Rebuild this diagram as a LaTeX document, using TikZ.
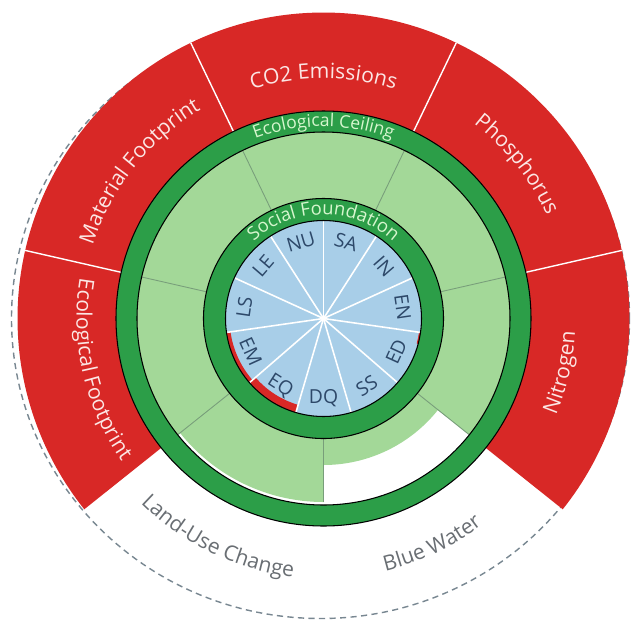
\documentclass[tikz,border=0pt]{standalone}
\usepackage{fontspec}
\setmainfont{Open Sans}
\usepackage{tikz}
\usetikzlibrary{decorations.text}

\definecolor{ceilred}{RGB}{216,40,38}
\definecolor{leafgreen}{RGB}{163,216,152}
\definecolor{ringgreen}{RGB}{44,158,72}
\definecolor{needblue}{RGB}{168,206,232}
\definecolor{needtext}{RGB}{45,72,105}
\definecolor{ringtext}{RGB}{214,246,206}
\definecolor{pinktext}{RGB}{252,230,228}
\definecolor{edgegrey}{RGB}{120,158,122}
\definecolor{usetext}{RGB}{105,110,115}
\definecolor{dashgrey}{RGB}{120,135,145}

\newcommand{\ceilfont}{\fontsize{12}{14}\selectfont\color{pinktext}}
\newcommand{\ringfont}{\fontsize{10}{11}\selectfont\color{ringtext}}
\newcommand{\basefont}{\fontsize{10.5}{12}\selectfont\color{ringtext}}
\newcommand{\landfont}{\fontsize{12}{14}\selectfont\color{usetext}}

\tikzset{
  needlabel/.style={text=needtext, font=\fontsize{11}{11}\selectfont, inner sep=0pt},
  ringline/.style={black, line width=0.6pt},
}

\begin{document}
\begin{tikzpicture}[x=0.02cm, y=0.02cm]
    % Frame
    \useasboundingbox (-323.5,-301.5) rectangle (311.5,318.5);
    \fill[white] (-323.5,-301.5) rectangle (311.5,318.5);
    % Dashed outline
    \draw[dashgrey, line width=0.8pt, dash pattern=on 3.5pt off 2.5pt] (-3,0) ellipse[x radius=309, y radius=300];
    % Red overshoot of the ceiling
    \foreach \a in {12.86, 64.29, 115.71, 167.14, 321.43}
        \fill[ceilred] (\a:200) arc[start angle=\a, end angle=\a+51.43, radius=200]
            -- ({\a+51.43}:306) arc[start angle=\a+51.43, end angle=\a, radius=306] -- cycle;
    \foreach \a in {12.86, 64.29, 115.71, 167.14}
        \draw[white, line width=0.8pt] (\a:207) -- (\a:306);
    % Green wedges
    \foreach \a in {12.86, 64.29, 115.71, 167.14, 321.43}
        \fill[leafgreen] (\a:110) arc[start angle=\a, end angle=\a+51.43, radius=110]
            -- ({\a+51.43}:190) arc[start angle=\a+51.43, end angle=\a, radius=190] -- cycle;
    \fill[leafgreen] (218.57:110) arc[start angle=218.57, end angle=270, radius=110]
        -- (270:183.5) arc[start angle=270, end angle=218.57, radius=183.5] -- cycle;
    \fill[leafgreen] (270:110) arc[start angle=270, end angle=321.43, radius=110]
        -- (321.43:146.5) arc[start angle=321.43, end angle=270, radius=146.5] -- cycle;
    \foreach \a in {12.86, 64.29, 115.71, 167.14, 218.57, 321.43}
        \draw[edgegrey, line width=0.5pt] (\a:118) -- (\a:187);
    \draw[edgegrey, line width=0.5pt] (270:118) -- (270:183.5);
    % Ecological ceiling ring
    \fill[ringgreen, even odd rule] (0,0) circle[radius=207.5] (0,0) circle[radius=186.5];
    \draw[ringline] (0,0) circle[radius=207.5] (0,0) circle[radius=186.5];
    % Social needs
    \fill[needblue] (0,0) circle[radius=98];
    \fill[ceilred] (188.18:98) arc[start angle=188.18, end angle=220.91, radius=98]
        -- (220.91:94) arc[start angle=220.91, end angle=188.18, radius=94] -- cycle;
    \fill[ceilred] (220.91:98) arc[start angle=220.91, end angle=253.64, radius=98]
        -- (253.64:90) arc[start angle=253.64, end angle=220.91, radius=90] -- cycle;
    \fill[ceilred] (345:98) arc[start angle=345, end angle=351.82, radius=98]
        -- (351.82:96.5) arc[start angle=351.82, end angle=345, radius=96.5] -- cycle;
    \foreach \k in {0,...,10}
        \draw[white, line width=0.9pt] (0,0) -- ({90+32.727*\k}:98);
    % Social foundation ring
    \fill[ringgreen, even odd rule] (0,0) circle[radius=120] (0,0) circle[radius=98];
    \draw[ringline] (0,0) circle[radius=120] (0,0) circle[radius=98];
    % Ring titles
    \path[decorate, decoration={text along path, text align=center,
        text={|\ringfont|Ecological Ceiling}}] (130:192) arc[start angle=130, end angle=50, radius=192];
    \path[decorate, decoration={text along path, text align=center,
        text={|\basefont|Social Foundation}}] (160:104) arc[start angle=160, end angle=20, radius=104];
    % Ceiling labels
    \path[decorate, decoration={text along path, text align=center,
        text={|\ceilfont|CO2 Emissions}}] (130:240) arc[start angle=130, end angle=50, radius=240];
    \path[decorate, decoration={text along path, text align=center,
        text={|\ceilfont|Phosphorus}}] (78.57:246) arc[start angle=78.57, end angle=-1.43, radius=246];
    \path[decorate, decoration={text along path, text align=center,
        text={|\ceilfont|Material Footprint}}] (181.43:242) arc[start angle=181.43, end angle=101.43, radius=242];
    \path[decorate, decoration={text along path, text align=center,
        text={|\ceilfont|Ecological Footprint}}] (152.86:247) arc[start angle=152.86, end angle=232.86, radius=247];
    \path[decorate, decoration={text along path, text align=center,
        text={|\ceilfont|Nitrogen}}] (307.14:252) arc[start angle=307.14, end angle=387.14, radius=252];
    \path[decorate, decoration={text along path, text align=center,
        text={|\landfont|Land-Use Change}}] (204.29:260) arc[start angle=204.29, end angle=284.29, radius=260];
    \path[decorate, decoration={text along path, text align=center,
        text={|\landfont|Blue Water}}] (255.71:260) arc[start angle=255.71, end angle=335.71, radius=260];
    % Need labels
    \node[needlabel, rotate=-16.36] (sa) at (73.64:80) {SA};
    \node[needlabel, rotate=16.36] (nu) at (106.36:80) {NU};
    \node[needlabel, rotate=49.09] (le) at (139.09:80) {LE};
    \node[needlabel, rotate=81.82] (ls) at (171.82:80) {LS};
    \node[needlabel, rotate=-65.45] (em) at (204.55:80) {EM};
    \node[needlabel, rotate=-32.73] (eq) at (237.27:80) {EQ};
    \node[needlabel] (dq) at (270:80) {DQ};
    \node[needlabel, rotate=32.73] (ss) at (302.73:80) {SS};
    \node[needlabel, rotate=65.45] (ed) at (335.45:80) {ED};
    \node[needlabel, rotate=-81.82] (en) at (8.18:80) {EN};
    \node[needlabel, rotate=-49.09] (in) at (40.91:80) {IN};
\end{tikzpicture}
\end{document}
